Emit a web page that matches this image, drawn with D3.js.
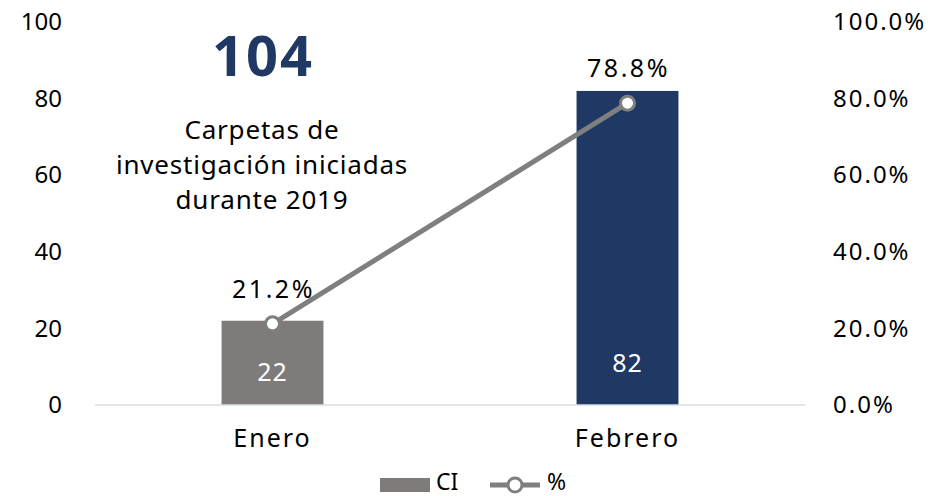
<!DOCTYPE html>
<html>
<head>
<meta charset="utf-8">
<script src="https://cdn.jsdelivr.net/npm/d3@7"></script>
<style>
  body { margin: 0; background: #fff; }
  text { font-family: "Noto Sans", "Open Sans", sans-serif; }
</style>
</head>
<body>
<div id="chart"></div>
<script>
const months = ["Enero", "Febrero"];
const ciValues = [22, 82];
const pctValues = [0.212, 0.788];
const barColors = ["#7f7b7b", "#203864"];
const leftTicks = [0, 20, 40, 60, 80, 100];
const rightTicks = [0, 0.2, 0.4, 0.6, 0.8, 1.0];

const width = 940, height = 496;
const margin = { top: 22, right: 135, bottom: 91, left: 95 };
const innerW = width - margin.left - margin.right;
const innerH = height - margin.top - margin.bottom;
const fontSize = "24px";

const svg = d3.select("#chart").append("svg")
  .attr("width", width)
  .attr("height", height);

const g = svg.append("g")
  .attr("transform", `translate(${margin.left},${margin.top})`);

const x = d3.scaleBand().domain(months).range([0, innerW]).paddingInner(0.713).paddingOuter(0.3565);
const yLeft = d3.scaleLinear().domain([0, 100]).range([innerH, 0]);
const yRight = d3.scaleLinear().domain([0, 1]).range([innerH, 0]);

// left axis labels
const leftAxis = g.append("g")
  .call(d3.axisLeft(yLeft).tickValues(leftTicks).tickSize(0).tickPadding(33));
leftAxis.select(".domain").remove();
leftAxis.selectAll("text").style("font-size", fontSize).attr("fill", "#000");

// right axis labels
const rightAxis = g.append("g")
  .attr("transform", `translate(${innerW},0)`)
  .call(d3.axisRight(yRight).tickValues(rightTicks).tickSize(0).tickPadding(28).tickFormat(d3.format(".1%")));
rightAxis.select(".domain").remove();
rightAxis.selectAll("text")
  .style("font-size", fontSize)
  .style("letter-spacing", "2px")
  .attr("fill", "#000");

// bars
g.selectAll(".bar")
  .data(months)
  .enter()
  .append("rect")
  .attr("class", "bar")
  .attr("x", (d) => x(d))
  .attr("y", (d, i) => yLeft(ciValues[i]))
  .attr("width", x.bandwidth())
  .attr("height", (d, i) => innerH - yLeft(ciValues[i]))
  .attr("fill", (d, i) => barColors[i]);

// baseline
g.append("line")
  .attr("x1", 0).attr("x2", innerW)
  .attr("y1", innerH).attr("y2", innerH)
  .attr("stroke", "#d9dde6").attr("stroke-width", 1.5);

// bar value labels
g.selectAll(".bar-label")
  .data(months)
  .enter()
  .append("text")
  .attr("x", (d) => x(d) + x.bandwidth() / 2)
  .attr("y", (d, i) => (i === 0 ? innerH - 24 : innerH - 33))
  .attr("text-anchor", "middle")
  .attr("fill", "#fff")
  .style("font-size", "25px")
  .style("letter-spacing", "1px")
  .text((d, i) => ciValues[i]);

// category labels
g.append("g")
  .attr("transform", `translate(0,${innerH})`)
  .call(d3.axisBottom(x).tickSize(0).tickPadding(24))
  .call((a) => a.select(".domain").remove())
  .selectAll("text")
  .style("font-size", "25px")
  .style("letter-spacing", "2px")
  .attr("fill", "#000");

// percent line
const line = d3.line()
  .x((d) => x(d) + x.bandwidth() / 2)
  .y((d, i) => yRight(pctValues[i]));

g.append("path")
  .datum(months)
  .attr("d", line)
  .attr("fill", "none")
  .attr("stroke", "#7f7f7f")
  .attr("stroke-width", 5);

g.selectAll(".dot")
  .data(months)
  .enter()
  .append("circle")
  .attr("cx", (d) => x(d) + x.bandwidth() / 2)
  .attr("cy", (d, i) => yRight(pctValues[i]))
  .attr("r", 7)
  .attr("fill", "#fff")
  .attr("stroke", "#7f7f7f")
  .attr("stroke-width", 3);

g.selectAll(".pct-label")
  .data(months)
  .enter()
  .append("text")
  .attr("x", (d) => x(d) + x.bandwidth() / 2 + 1)
  .attr("y", (d, i) => yRight(pctValues[i]) - 26)
  .attr("text-anchor", "middle")
  .attr("fill", "#000")
  .style("font-size", "25px")
  .style("letter-spacing", "2.5px")
  .text((d, i) => d3.format(".1%")(pctValues[i]));

// annotation
svg.append("text")
  .attr("x", 263).attr("y", 76)
  .attr("text-anchor", "middle")
  .attr("fill", "#203864")
  .style("font-size", "56px")
  .style("font-weight", "bold")
  .style("letter-spacing", "2px")
  .text(d3.sum(ciValues));

const note = ["Carpetas de", "investigación iniciadas", "durante 2019"];
svg.selectAll(".note")
  .data(note)
  .enter()
  .append("text")
  .attr("x", 262)
  .attr("y", (d, i) => 139 + i * 35)
  .attr("text-anchor", "middle")
  .attr("fill", "#000")
  .style("font-size", "26px")
  .style("letter-spacing", "0.8px")
  .text((d) => d);

// legend
const legend = svg.append("g").attr("transform", "translate(380,485)");
legend.append("rect")
  .attr("x", 0).attr("y", -7)
  .attr("width", 50).attr("height", 14)
  .attr("fill", barColors[0]);
legend.append("text")
  .attr("x", 56).attr("y", 5)
  .style("font-size", "23px")
  .text("CI");
legend.append("line")
  .attr("x1", 110).attr("x2", 160)
  .attr("y1", 0).attr("y2", 0)
  .attr("stroke", "#7f7f7f").attr("stroke-width", 5);
legend.append("circle")
  .attr("cx", 135).attr("cy", 0).attr("r", 7)
  .attr("fill", "#fff").attr("stroke", "#7f7f7f").attr("stroke-width", 3);
legend.append("text")
  .attr("x", 167).attr("y", 5)
  .style("font-size", "23px")
  .text("%");
</script>
</body>
</html>
